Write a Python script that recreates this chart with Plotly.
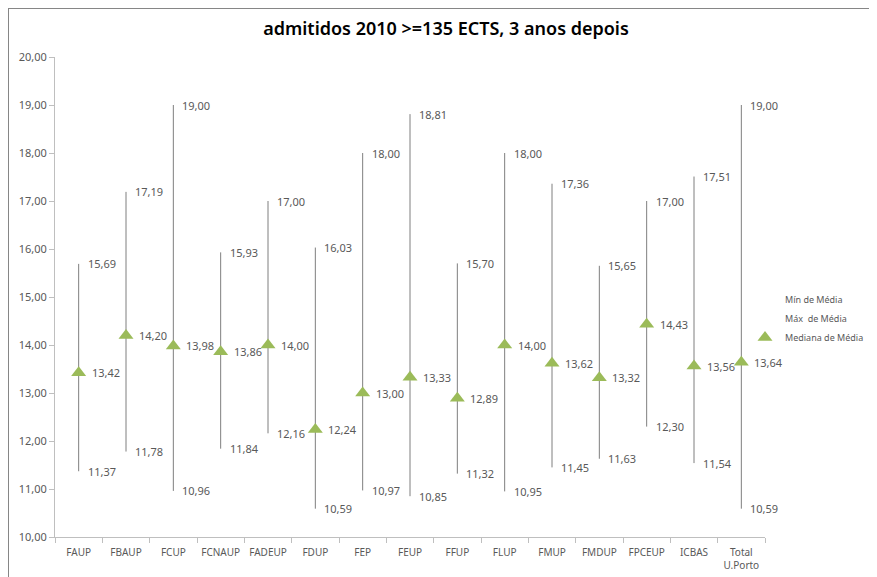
import plotly.graph_objects as go

categories = ["FAUP", "FBAUP", "FCUP", "FCNAUP", "FADEUP", "FDUP", "FEP", "FEUP",
              "FFUP", "FLUP", "FMUP", "FMDUP", "FPCEUP", "ICBAS", "Total<br>U.Porto"]
min_vals = [11.37, 11.78, 10.96, 11.84, 12.16, 10.59, 10.97, 10.85,
            11.32, 10.95, 11.45, 11.63, 12.30, 11.54, 10.59]
max_vals = [15.69, 17.19, 19.00, 15.93, 17.00, 16.03, 18.00, 18.81,
            15.70, 18.00, 17.36, 15.65, 17.00, 17.51, 19.00]
median_vals = [13.42, 14.20, 13.98, 13.86, 14.00, 12.24, 13.00, 13.33,
               12.89, 14.00, 13.62, 13.32, 14.43, 13.56, 13.64]
y_ticks = [10, 11, 12, 13, 14, 15, 16, 17, 18, 19, 20]
title_text = "admitidos 2010 >=135 ECTS, 3 anos depois"

FONT = "Noto Sans, Open Sans, sans-serif"
TXT = "#595959"
GREEN = "#9BBB59"

def fmt(v):
    return f"{v:.2f}".replace(".", ",")

# page offset from default body margin
OFF = 8
# target plot area in page pixels
PX0, PX1, PY0, PY1 = 55, 765, 57, 537
W, H = 877 - OFF, 577 - OFF
L, T = PX0 - OFF, PY0 - OFF
R = W - (PX1 - OFF)
B = H - (PY1 - OFF)
pw, ph = PX1 - PX0, PY1 - PY0

def px_x(p):  # page px -> paper
    return (p - PX0) / pw

def px_y(p):
    return (PY1 - p) / ph

fig = go.Figure()

# high-low lines
lx, ly = [], []
for c, lo, hi in zip(categories, min_vals, max_vals):
    lx += [c, c, None]
    ly += [lo, hi, None]
fig.add_trace(go.Scatter(x=lx, y=ly, mode="lines",
                         line=dict(color="#7f7f7f", width=1),
                         showlegend=False, hoverinfo="skip"))

# legend-only entries for min / max
fig.add_trace(go.Scatter(x=[None], y=[None], mode="lines", name="Mín de Média",
                         line=dict(color="rgba(0,0,0,0)", width=0)))
fig.add_trace(go.Scatter(x=[None], y=[None], mode="lines", name="Máx  de Média",
                         line=dict(color="rgba(0,0,0,0)", width=0)))

# median markers
fig.add_trace(go.Scatter(x=categories, y=median_vals, mode="markers",
                         name="Mediana de Média",
                         marker=dict(symbol="triangle-up", size=13, color=GREEN)))

# data labels
for c, lo, hi, md in zip(categories, min_vals, max_vals, median_vals):
    for v, sh in ((lo, 7), (hi, 7), (md, 11)):
        fig.add_annotation(x=c, y=v, text=fmt(v), showarrow=False,
                           xanchor="left", yanchor="middle", xshift=sh,
                           font=dict(family=FONT, size=11, color=TXT))

# chart border (left and top edges visible)
fig.add_shape(type="line", xref="paper", yref="paper",
              x0=px_x(8.5), x1=px_x(8.5), y0=px_y(8), y1=px_y(600),
              line=dict(color="#868686", width=1))
fig.add_shape(type="line", xref="paper", yref="paper",
              x0=px_x(8.5), x1=px_x(900), y0=px_y(8.5), y1=px_y(8.5),
              line=dict(color="#868686", width=1))

fig.update_layout(
    width=W, height=H,
    margin=dict(l=L, r=R, t=T, b=B, autoexpand=False),
    paper_bgcolor="white", plot_bgcolor="white",
    separators=",.",
    title=dict(text=title_text, xref="container", x=(446 - OFF) / W, xanchor="center",
               yref="container", y=1 - (29 - OFF) / H, yanchor="middle",
               font=dict(family=FONT, size=18, color="#000000", weight=600)),
    font=dict(family=FONT, size=11, color=TXT),
    showlegend=True,
    legend=dict(x=px_x(745), y=px_y(285), xanchor="left", yanchor="top",
                font=dict(family=FONT, size=9, color=TXT),
                bgcolor="rgba(0,0,0,0)", tracegroupgap=0, itemwidth=30),
    xaxis=dict(type="category", categoryorder="array", categoryarray=categories,
               showline=True, linecolor="#bfbfbf", linewidth=1,
               ticks="outside", ticklen=5, tickcolor="#bfbfbf",
               tickson="boundaries", showgrid=False, zeroline=False,
               tickangle=0, automargin=False, ticklabelstandoff=6,
               tickfont=dict(family=FONT, size=10, color=TXT),
               range=[-0.5, len(categories) - 0.5]),
    yaxis=dict(range=[10, 20], tickvals=y_ticks, tickformat=".2f",
               showline=True, linecolor="#bfbfbf", linewidth=1,
               ticks="outside", ticklen=5, tickcolor="#bfbfbf",
               showgrid=False, zeroline=False, automargin=False,
               tickfont=dict(family=FONT, size=11, color=TXT)),
)

fig.write_html("out.html")
